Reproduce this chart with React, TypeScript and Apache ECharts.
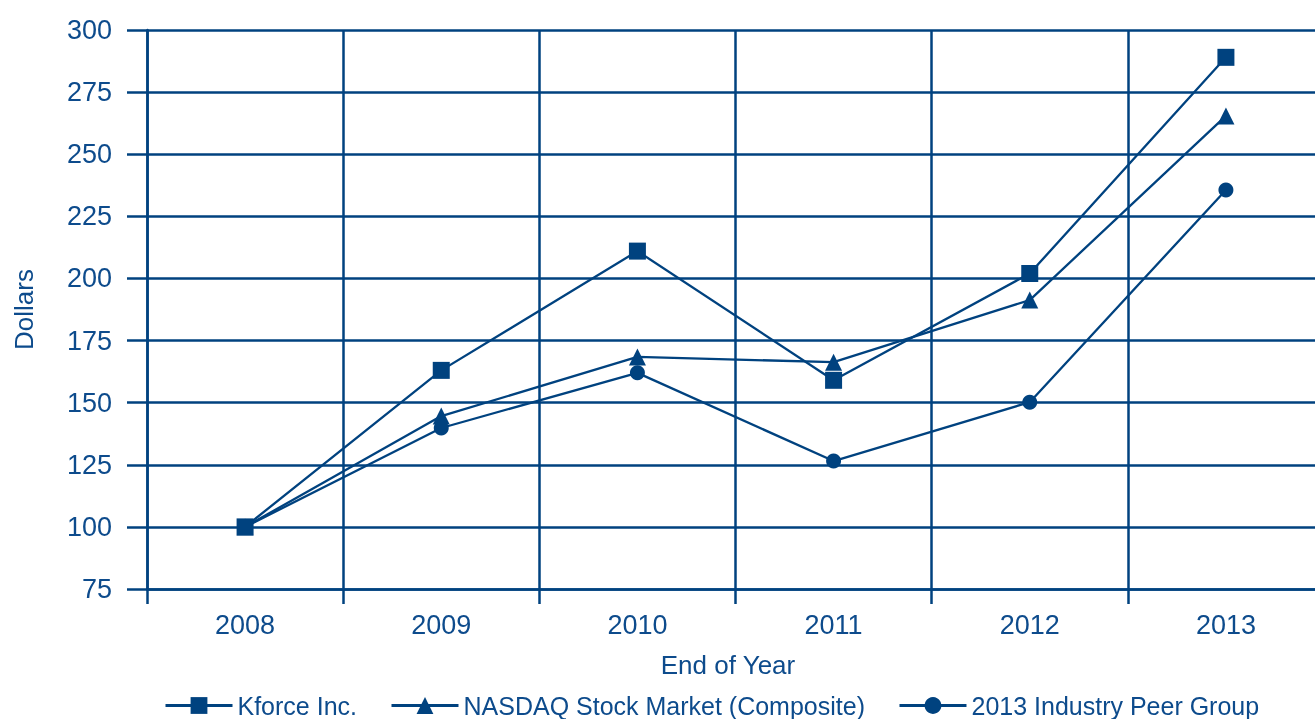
import React, { useEffect, useRef } from "react";
import * as echarts from "echarts";

const years = ["2008", "2009", "2010", "2011", "2012", "2013"];
const kforce = [100, 163, 211, 159, 202, 289];
const nasdaq = [100, 144.6, 168.4, 166.3, 191.3, 265.4];
const peer = [100, 139.8, 162, 126.5, 150.2, 235.6];

const LINE = "#00427f";
const TEXT = "#0d4b8c";
const FONT = "Liberation Sans";

export default function App() {
  const ref = useRef<HTMLDivElement>(null);
  useEffect(() => {
    if (!ref.current) return;
    const chart = echarts.init(ref.current, null, { renderer: "svg" });
    const mk = (name: string, data: number[], symbol: string, size: number, z: number) => ({
      name,
      type: "line",
      data,
      symbol,
      symbolSize: size,
      z,
      lineStyle: { color: LINE, width: 2.3 },
      itemStyle: { color: LINE },
    });
    chart.setOption({
      animation: false,
      textStyle: { fontFamily: FONT, color: TEXT },
      grid: { left: 147, top: 30, width: 1177, height: 559, containLabel: false },
      xAxis: {
        type: "category",
        data: years,
        boundaryGap: true,
        name: "End of Year",
        nameLocation: "middle",
        nameGap: 63,
        nameTextStyle: { fontSize: 26, color: TEXT, fontFamily: FONT, padding: [0, 15, 0, 0] },
        axisLine: { show: true, lineStyle: { color: LINE, width: 2.5 } },
        axisTick: { show: true, length: 15, lineStyle: { color: LINE, width: 2.5 } },
        axisLabel: { fontSize: 27, color: TEXT, margin: 22, fontFamily: FONT },
        splitLine: { show: true, lineStyle: { color: LINE, width: 2.5 } },
      },
      yAxis: {
        type: "value",
        min: 75,
        max: 300,
        interval: 25,
        name: "Dollars",
        nameLocation: "middle",
        nameGap: 110,
        nameTextStyle: { fontSize: 26, color: TEXT, fontFamily: FONT },
        axisLine: { show: true, lineStyle: { color: LINE, width: 2.5 } },
        axisTick: { show: true, length: 20, lineStyle: { color: LINE, width: 2.5 } },
        axisLabel: { fontSize: 27, color: TEXT, margin: 35, fontFamily: FONT },
        splitLine: { show: true, lineStyle: { color: LINE, width: 2.5 } },
      },
      legend: {
        left: 159,
        top: 688,
        itemWidth: 67,
        itemHeight: 21,
        itemGap: 33,
        lineStyle: { width: 3 },
        textStyle: { fontSize: 25, color: TEXT, fontFamily: FONT },
        data: ["Kforce Inc.", "NASDAQ Stock Market (Composite)", "2013 Industry Peer Group"],
      },
      series: [
        mk("2013 Industry Peer Group", peer, "circle", 15, 2),
        mk("NASDAQ Stock Market (Composite)", nasdaq, "triangle", 17, 3),
        mk("Kforce Inc.", kforce, "rect", 17, 4),
      ],
    });
    return () => chart.dispose();
  }, []);
  return (
    <div style={{ position: "fixed", left: 0, top: 0, width: 1315, height: 719, overflow: "hidden" }}>
      <div ref={ref} style={{ width: 1340, height: 719 }} />
    </div>
  );
}
